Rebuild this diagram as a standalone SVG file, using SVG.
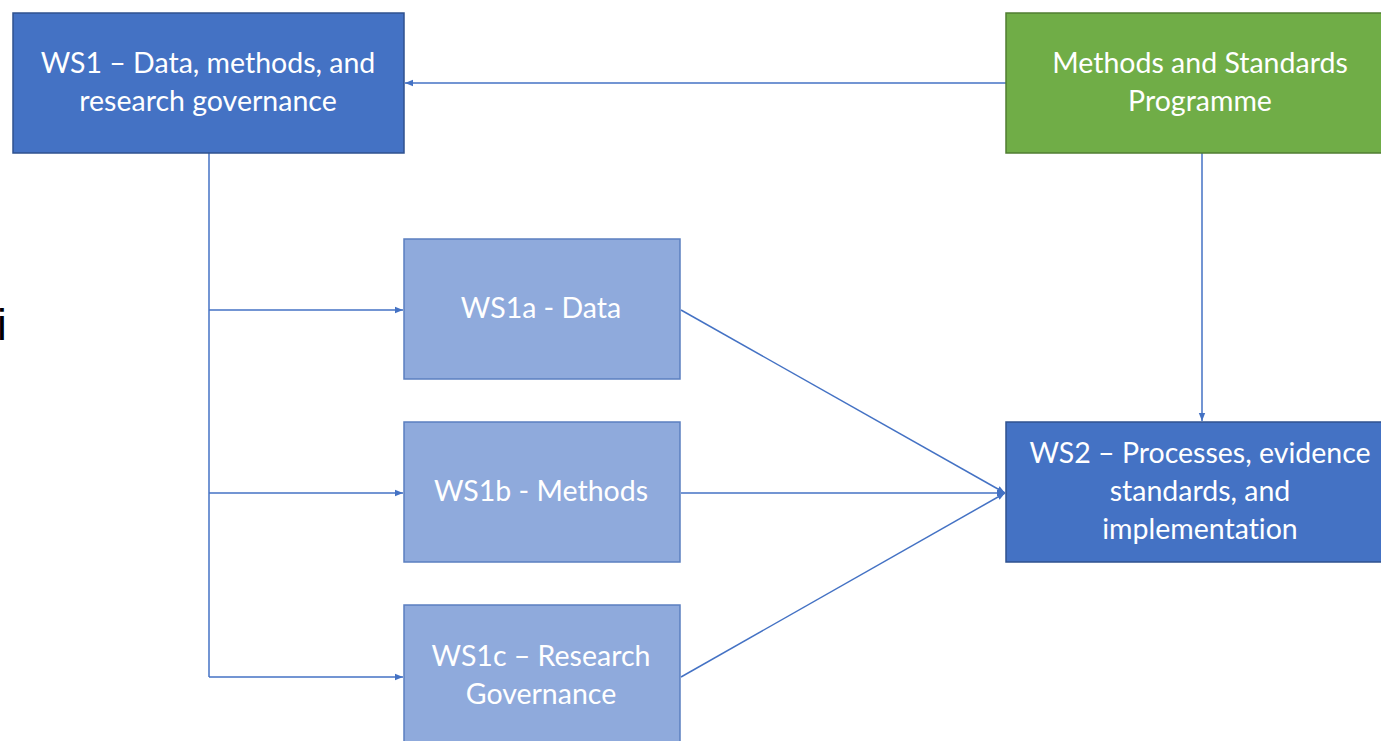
<svg xmlns="http://www.w3.org/2000/svg" width="1381" height="741" viewBox="0 0 1381 741">
<style>
.dark{fill:#4472C4;stroke:#2F528F;stroke-width:1.5}
.green{fill:#70AD47;stroke:#507E32;stroke-width:1.5}
.light{fill:#8FAADC;stroke:#5B7FC0;stroke-width:1.5}
.t{font-family:Lato,"Open Sans","Liberation Sans",sans-serif;font-size:28.5px;fill:#fff;text-anchor:middle;font-variant-ligatures:none}
.c{stroke:#4472C4;stroke-width:1.5;fill:none}
</style>
<defs>
<marker id="ah" viewBox="0 0 10 10" refX="10" refY="5" markerWidth="8" markerHeight="8" orient="auto" markerUnits="userSpaceOnUse">
<path d="M0,1 L10,5 L0,9 Z" fill="#4472C4"/>
</marker>
</defs>
<rect width="1381" height="741" fill="#fff"/>
<text x="-3" y="340" font-family="Liberation Sans,sans-serif" font-size="44" fill="#000">i</text>
<g id="connectors">
<path class="c" d="M209,153 V677"/>
<path class="c" d="M209,310 H403" marker-end="url(#ah)"/>
<path class="c" d="M209,493 H403" marker-end="url(#ah)"/>
<path class="c" d="M209,677 H403" marker-end="url(#ah)"/>
<path class="c" d="M1006,83 H405" marker-end="url(#ah)"/>
<path class="c" d="M1202,153 V421" marker-end="url(#ah)"/>
<path class="c" d="M681,310 L1005,493" marker-end="url(#ah)"/>
<path class="c" d="M681,493 H1005" marker-end="url(#ah)"/>
<path class="c" d="M681,677 L1005,493" marker-end="url(#ah)"/>
</g>
<g id="ws1">
<rect class="dark" x="13" y="13" width="391" height="140"/>
<text class="t" x="208" y="73">WS1 – Data, methods, and</text>
<text class="t" x="208" y="111">research governance</text>
</g>
<g id="msp">
<rect class="green" x="1006" y="13" width="376" height="140"/>
<text class="t" x="1200" y="73">Methods and Standards</text>
<text class="t" x="1200" y="111">Programme</text>
</g>
<g id="ws1a">
<rect class="light" x="404" y="239" width="276" height="140"/>
<text class="t" x="541" y="318">WS1a - Data</text>
</g>
<g id="ws1b">
<rect class="light" x="404" y="422" width="276" height="140"/>
<text class="t" x="541" y="501">WS1b - Methods</text>
</g>
<g id="ws1c">
<rect class="light" x="404" y="605" width="276" height="160"/>
<text class="t" x="541" y="666">WS1c – Research</text>
<text class="t" x="541" y="704">Governance</text>
</g>
<g id="ws2">
<rect class="dark" x="1006" y="422" width="376" height="140"/>
<text class="t" x="1200" y="463">WS2 – Processes, evidence</text>
<text class="t" x="1200" y="501">standards, and</text>
<text class="t" x="1200" y="539">implementation</text>
</g>
</svg>
